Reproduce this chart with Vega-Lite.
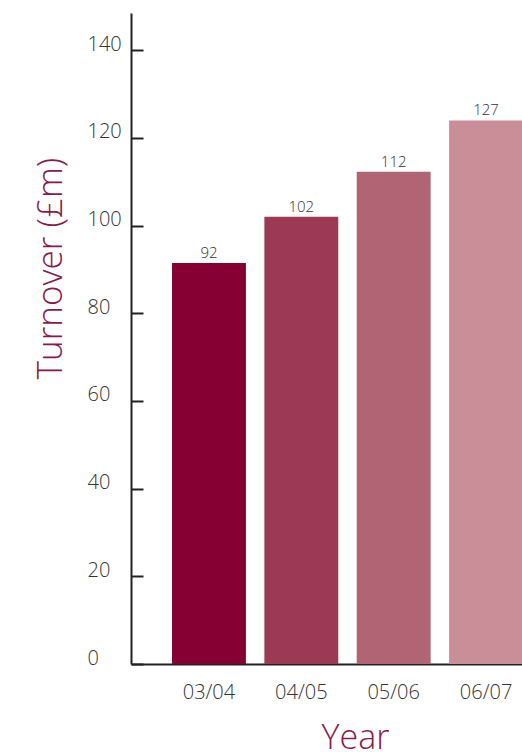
{
  "$schema": "https://vega.github.io/schema/vega-lite/v6.json",
  "autosize": "none",
  "padding": {"left": 131, "top": 13, "right": 0, "bottom": 91},
  "width": 433,
  "height": 651,
  "background": "white",
  "config": {
    "view": {"stroke": null},
    "font": "Open Sans"
  },
  "data": {
    "values": [
      {"year": "03/04", "turnover": 91.5, "label": "92"},
      {"year": "04/05", "turnover": 102, "label": "102"},
      {"year": "05/06", "turnover": 112.3, "label": "112"},
      {"year": "06/07", "turnover": 124, "label": "127"}
    ]
  },
  "encoding": {
    "x": {
      "field": "year",
      "type": "nominal",
      "sort": null,
      "scale": {"paddingInner": 0.2, "paddingOuter": 0.444},
      "axis": {
        "title": "Year",
        "titleFont": "Open Sans",
        "titleFontWeight": 300,
        "titleFontSize": 34,
        "titleColor": "#8b1a4a",
        "titleX": 224,
        "titleY": 74,
        "titleBaseline": "middle",
        "ticks": false,
        "labelAngle": 0,
        "labelFont": "Open Sans",
        "labelFontWeight": 300,
        "labelFontSize": 20,
        "labelColor": "#333333",
        "labelPadding": 18,
        "domainColor": "#222222",
        "domainWidth": 2
      }
    },
    "y": {
      "field": "turnover",
      "type": "quantitative",
      "scale": {"domain": [0, 148.5], "nice": false},
      "axis": {
        "title": "Turnover (£m)",
        "titleFont": "Open Sans",
        "titleFontWeight": 300,
        "titleFontSize": 35,
        "titleColor": "#8b1a4a",
        "titleX": -81,
        "titleY": 255,
        "titleAngle": -90,
        "titleAlign": "center",
        "titleBaseline": "middle",
        "values": [0, 20, 40, 60, 80, 100, 120, 140],
        "grid": false,
        "tickSize": -12,
        "tickWidth": 2,
        "tickColor": "#222222",
        "labelFont": "Open Sans",
        "labelFontWeight": 300,
        "labelFontSize": 20,
        "labelColor": "#333333",
        "labelAlign": "left",
        "labelPadding": 56,
        "labelOffset": -6,
        "domainColor": "#222222",
        "domainWidth": 2
      }
    }
  },
  "layer": [
    {
      "mark": {"type": "bar"},
      "encoding": {
        "color": {
          "field": "year",
          "type": "nominal",
          "sort": null,
          "scale": {"range": ["#870034", "#9c3954", "#b16473", "#c98e98"]},
          "legend": null
        }
      }
    },
    {
      "mark": {"type": "text", "baseline": "bottom", "dy": -2, "font": "Open Sans", "fontWeight": 300, "fontSize": 15, "color": "#333333"},
      "encoding": {"text": {"field": "label"}}
    }
  ]
}
